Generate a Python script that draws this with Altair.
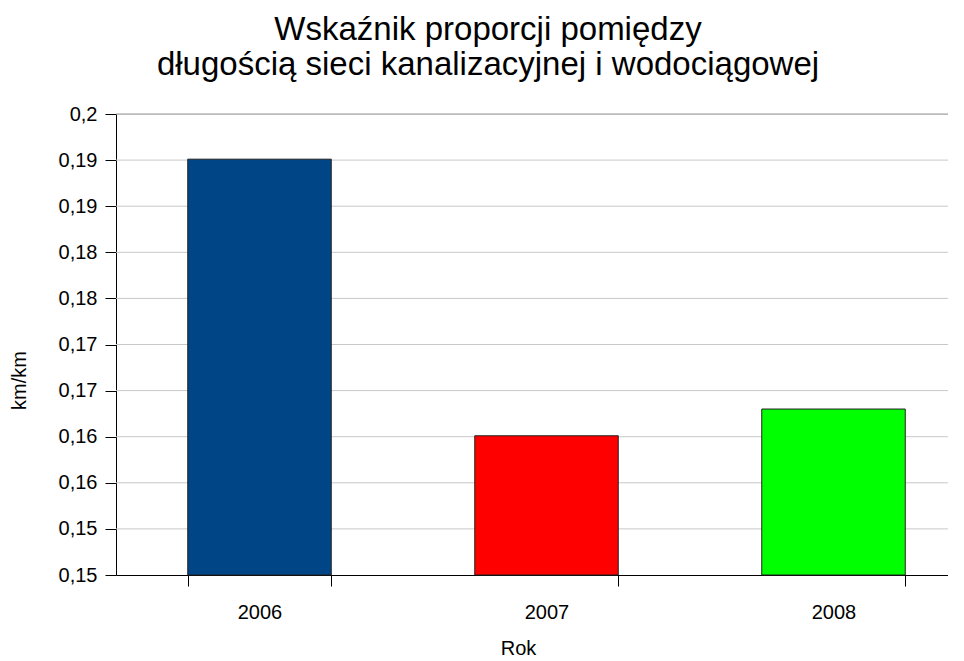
import altair as alt
import pandas as pd

years = ["2006", "2007", "2008"]
values = [0.1951, 0.1651, 0.1680]
colors = ["#004586", "#ff0000", "#00ff00"]
y_ticks = [0.15, 0.155, 0.16, 0.165, 0.17, 0.175, 0.18, 0.185, 0.19, 0.195, 0.2]

df = pd.DataFrame({"Rok": years, "val": values, "color": colors})
grid_df = pd.DataFrame({"t": y_ticks[1:-1]})
top_df = pd.DataFrame({"t": y_ticks[-1:]})

FONT = "Liberation Sans"
W = 832
YSCALE = alt.Scale(domain=[0.15, 0.2], zero=False, nice=False)

grid = alt.Chart(grid_df).mark_rule(color="#c8c8c8", strokeWidth=1).encode(
    y=alt.Y("t:Q", scale=YSCALE),
    x=alt.value(0), x2=alt.value(850),
)
top = alt.Chart(top_df).mark_rule(color="#999999", strokeWidth=1).encode(
    y=alt.Y("t:Q", scale=YSCALE),
    x=alt.value(0), x2=alt.value(850),
)

bars = alt.Chart(df).mark_bar(stroke="#222222", strokeWidth=1).encode(
    x=alt.X("Rok:N", sort=years,
            scale=alt.Scale(paddingInner=0.5, paddingOuter=0.25, range=[0, 861]),
            axis=alt.Axis(title="Rok", labelAngle=0, labelFontSize=20, titleFontSize=20,
                          labelPadding=16, titlePadding=16, tickSize=11, tickBand="extent",
                          domainColor="black", tickColor="black", labelColor="black",
                          titleColor="black", titleFontWeight="normal", grid=False,
                          labelFont=FONT, titleFont=FONT, titleX=402)),
    y=alt.Y("val:Q", scale=alt.Scale(domain=[0.15, 0.2], zero=False, nice=False, clamp=True),
            axis=alt.Axis(title="km/km", values=y_ticks,
                          labelExpr="replace(toString(floor(datum.value*100+0.0001)/100), '.', ',')",
                          labelFontSize=20, titleFontSize=20, tickSize=11, labelPadding=8,
                          titlePadding=29, domainColor="black", tickColor="black",
                          labelColor="black", titleColor="black", titleFontWeight="normal",
                          grid=False, labelFont=FONT, titleFont=FONT, titleY=266)),
    color=alt.Color("color:N", scale=None, legend=None),
)

chart = alt.layer(grid, top, bars).properties(
    width=W,
    height=461,
    title=alt.TitleParams(
        text=["Wskaźnik proporcji pomiędzy", "długością sieci kanalizacyjnej i wodociągowej"],
        fontSize=33, font=FONT, fontWeight="normal", color="black",
        anchor="middle", frame="group", dx=488 - 116 - W / 2, lineHeight=35, offset=22,
    ),
    autosize="none",
    padding={"left": 108, "top": 106, "right": 0, "bottom": 88},
).configure_view(stroke=None).configure(background="white")

chart.save("out.html", embed_options={"renderer": "svg", "actions": False})
